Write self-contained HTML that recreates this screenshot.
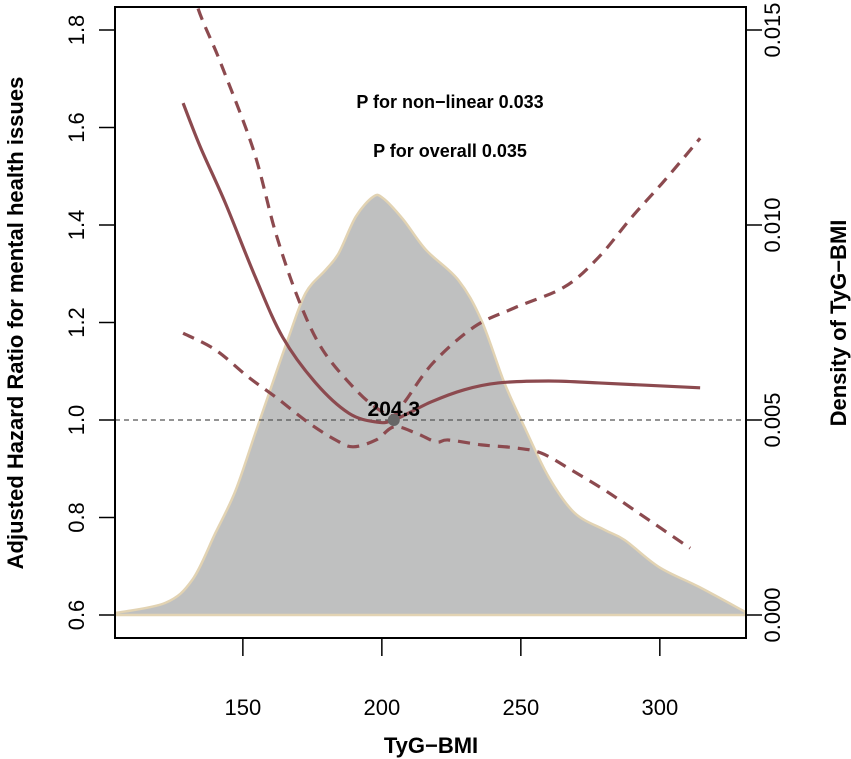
<!DOCTYPE html>
<html><head><meta charset="utf-8"><style>
body{margin:0;background:#fff}
svg{display:block;font-family:"Liberation Sans",Arial,sans-serif}
</style></head><body>
<svg id="c" width="851" height="759" viewBox="0 0 851 759"></svg>
<script>
const densX=[104,122.1,131.8,140.1,147.3,154.5,160.7,166.5,172.6,179.8,184.5,190.6,196.8,200.4,207.6,215.9,227.5,235.8,244.1,251.3,260,269.3,280.2,287.4,299.7,314.1,330.7];
const densY=[0.05,0.31,0.90,2.10,3.18,4.67,5.95,7.13,8.26,8.85,9.28,10.21,10.72,10.69,10.15,9.36,8.59,7.56,5.95,4.82,3.54,2.62,2.18,1.92,1.23,0.72,0.08];
const fitX=[128.5,134.7,143.7,154.5,164.3,176.2,188.1,197.9,204.3,217.7,229.6,241.9,260,278,314.5];
const fitHR=[1.650,1.560,1.445,1.293,1.170,1.076,1.014,0.996,1.0,1.037,1.062,1.076,1.080,1.076,1.066];
const upX=[128.5,132.9,141.9,153.8,161.8,170.1,178.7,190.6,199,204.4,208.7,218.4,233.2,247.7,265.7,278,289.9,301.8,314.5];
const upHR=[2.005,1.862,1.734,1.554,1.384,1.246,1.144,1.062,1.021,1.010,1.041,1.117,1.191,1.230,1.273,1.334,1.416,1.492,1.578];
const loX=[128.5,140.1,152,161.8,173.7,183.4,189.6,197.9,204.4,212.3,219.5,223.9,235.8,247.7,257.4,268.3,280.2,292.4,310.9];
const loHR=[1.178,1.144,1.088,1.047,0.994,0.959,0.945,0.959,0.986,0.973,0.955,0.959,0.949,0.943,0.932,0.897,0.856,0.809,0.737];
const xTicks=[150,200,250,300];
const yTicks=["0.6","0.8","1.0","1.2","1.4","1.6","1.8"];
const dTicks=["0.000","0.005","0.010","0.015"];
const refX=204.3, refHR=1.0;

const L=115,R=746,T=7,B=638;
const sx=v=>L+(v-104)*(R-L)/(331-104);
const sy=v=>615-(v-0.6)*487.5;
const sd=v=>615-v*39;
const NS="http://www.w3.org/2000/svg";
const svg=document.getElementById('c');
function mk(t,a,p){const e=document.createElementNS(NS,t);for(const k in a)e.setAttribute(k,a[k]);(p||svg).appendChild(e);return e;}
function smooth(pts){let d=`M${pts[0][0]},${pts[0][1]}`;for(let i=0;i<pts.length-1;i++){const p0=pts[i-1]||pts[i],p1=pts[i],p2=pts[i+1],p3=pts[i+2]||p2;
d+=` C${p1[0]+(p2[0]-p0[0])/6},${p1[1]+(p2[1]-p0[1])/6} ${p2[0]-(p3[0]-p1[0])/6},${p2[1]-(p3[1]-p1[1])/6} ${p2[0]},${p2[1]}`;}return d;}

const defs=mk('defs',{});
const cp=mk('clipPath',{id:'clip'},defs);mk('rect',{x:L,y:T,width:R-L,height:B-T},cp);
const g=mk('g',{'clip-path':'url(#clip)'});

const dp=densX.map((x,i)=>[sx(x),sd(densY[i])]);
const dens=mk('path',{d:smooth(dp)+` L${sx(densX[densX.length-1])},615 L${sx(densX[0])},615 Z`,fill:'#bfc0c0',stroke:'#e2d3b3','stroke-width':2.5},g);



const ref=mk('line',{x1:L,x2:R,y1:sy(1),y2:sy(1),stroke:'#555','stroke-width':1.2,'stroke-dasharray':'5 4'},g);



function line(xs,ys,dash,name){const p=mk('path',{d:smooth(xs.map((x,i)=>[sx(x),sy(ys[i])])),fill:'none',stroke:'#8c4a4f','stroke-width':3.2,'stroke-dasharray':dash||'none'},g);

}
line(upX,upHR,'12 8','upper-ci');
line(loX,loHR,'12 8','lower-ci');
line(fitX,fitHR,null,'hazard-ratio-curve');

const pt=mk('circle',{cx:sx(refX),cy:sy(refHR),r:6,fill:'#666'});


const lb=mk('text',{x:sx(refX),y:sy(refHR)-4,'text-anchor':'middle','font-size':21,'font-weight':'bold'});lb.textContent=refX.toFixed(1);



const box=mk('rect',{x:L,y:T,width:R-L,height:B-T,fill:'none',stroke:'#000','stroke-width':2});



xTicks.forEach(v=>{mk('line',{x1:sx(v),x2:sx(v),y1:B,y2:B+18,stroke:'#000','stroke-width':1.5});
const t=mk('text',{x:sx(v),y:715,'text-anchor':'middle','font-size':22});t.textContent=v;

});
yTicks.forEach(s=>{const y=sy(+s);mk('line',{x1:L,x2:L-16,y1:y,y2:y,stroke:'#000','stroke-width':1.5});
const t=mk('text',{x:84,y:y,'text-anchor':'middle','font-size':22,transform:`rotate(-90 84 ${y})`});t.textContent=s;

});
dTicks.forEach(s=>{const y=sd(+s*1000);mk('line',{x1:R,x2:R+16,y1:y,y2:y,stroke:'#000','stroke-width':1.5});
const t=mk('text',{x:780,y:y,'text-anchor':'middle','font-size':22,transform:`rotate(-90 780 ${y})`});t.textContent=s;

});

function txt(s,a,name){const t=mk('text',a);t.textContent=s;}
txt('TyG\u2212BMI',{x:431,y:753,'text-anchor':'middle','font-size':22,'font-weight':'bold'},'x-axis-title');
txt('Adjusted Hazard Ratio for mental health issues',{x:23,y:323,'text-anchor':'middle','font-size':22,'font-weight':'bold',transform:'rotate(-90 23 323)'},'y-axis-title');
txt('Density of TyG\u2212BMI',{x:846,y:323,'text-anchor':'middle','font-size':22,'font-weight':'bold',transform:'rotate(-90 846 323)'},'density-axis-title');
txt('P for non\u2212linear 0.033',{x:450,y:108,'text-anchor':'middle','font-size':18,'font-weight':'bold'},'p-nonlinear-annotation');
txt('P for overall 0.035',{x:450,y:157,'text-anchor':'middle','font-size':18,'font-weight':'bold'},'p-overall-annotation');
</script>
</body></html>
